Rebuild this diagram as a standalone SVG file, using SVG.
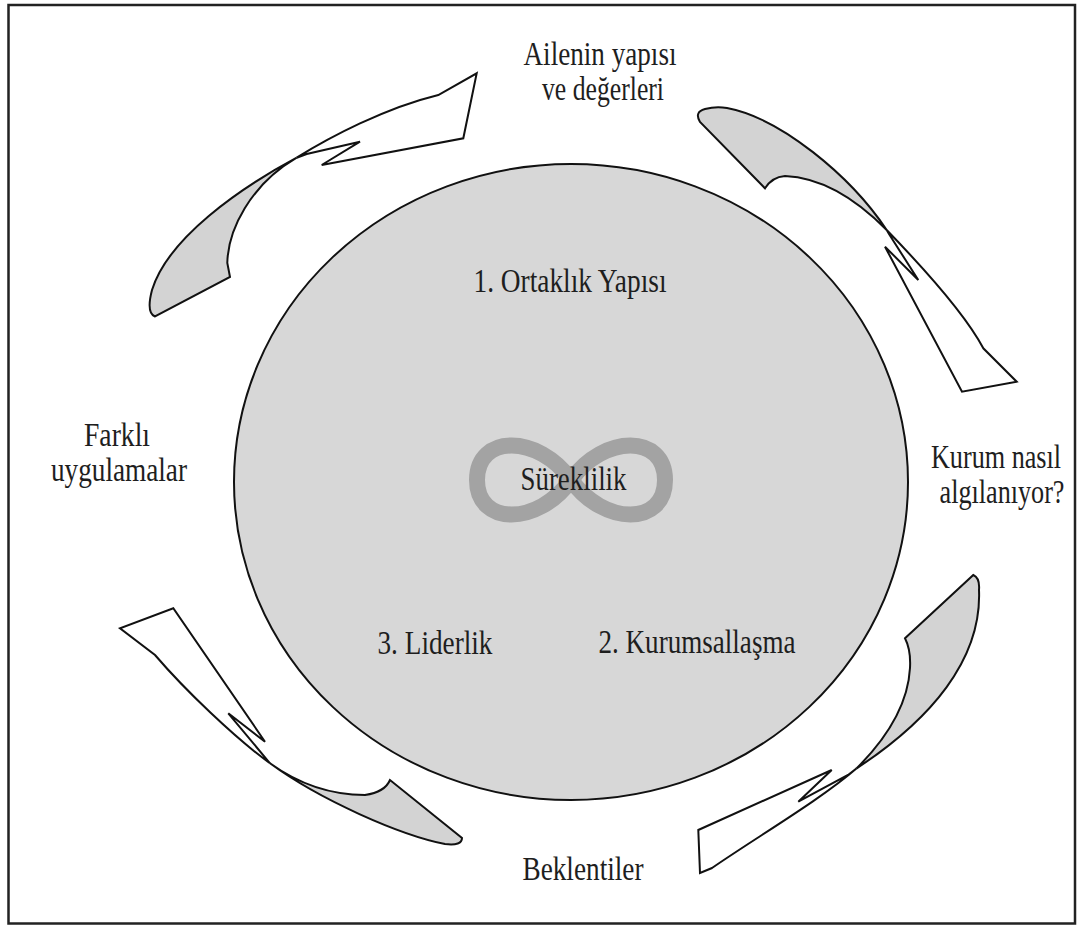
<svg xmlns="http://www.w3.org/2000/svg" width="1080" height="929" viewBox="0 0 1080 929">
  <style>
    .frame { fill: #ffffff; stroke: #222222; stroke-width: 2.5; }
    .core { fill: #d7d7d7; stroke: #111111; stroke-width: 2; }
    .ribbon-back { fill: #d3d3d3; stroke: #111111; stroke-width: 2; stroke-linejoin: miter; }
    .ribbon-front { fill: #ffffff; stroke: #111111; stroke-width: 2; stroke-linejoin: miter; }
    .loop { fill: none; stroke: #a3a3a3; stroke-width: 16; }
    .lbl { font-family: "Liberation Serif", "Times New Roman", serif; font-size: 34px; fill: #1e1e1e; text-anchor: middle; }
  </style>

  <rect class="frame" x="8.5" y="5" width="1066.5" height="918.5"/>

  <!-- central circle with the three pillars -->
  <g id="core">
    <ellipse class="core" cx="571" cy="482" rx="337" ry="318"/>
    <path class="loop" d="M 571 480 C 604 434, 665 434, 665 480 C 665 526, 604 526, 571 480 C 538 434, 477 434, 477 480 C 477 526, 538 526, 571 480 Z"/>
    <text class="lbl" x="570" y="292" textLength="193" lengthAdjust="spacingAndGlyphs">1. Ortaklık Yapısı</text>
    <text class="lbl" x="573.5" y="490" textLength="106" lengthAdjust="spacingAndGlyphs">Süreklilik</text>
    <text class="lbl" x="435" y="654" textLength="115" lengthAdjust="spacingAndGlyphs">3. Liderlik</text>
    <text class="lbl" x="697" y="653" textLength="197" lengthAdjust="spacingAndGlyphs">2. Kurumsallaşma</text>
  </g>

  <!-- twisted ribbons circling the core -->
  <g id="connectors">
    <g id="ribbon-top-left">
      <path class="ribbon-back" d="M 296.7 157.7 C 240 188, 168 238, 152 290 Q 146 313, 155 316.5 L 230 277 L 227.3 263 C 228 230, 250 185, 296.7 157.7 Z"/>
      <path class="ribbon-front" d="M 296.7 157.7 C 330 137, 385 108, 438.3 95 L 476.7 73.3 L 463.3 138.3 L 321.7 165 L 360 141.7 L 306.7 154 Z"/>
    </g>
    <g id="ribbon-top-right">
      <path class="ribbon-back" d="M 700 122 Q 694 112, 705 109 Q 716 106, 727 108 C 780 118, 850 175, 886.7 230 C 865 208, 830 178, 785 176 Q 772 177, 765 188.3 Z"/>
      <path class="ribbon-front" d="M 886.7 230 C 908 252, 962 308, 983.3 348.3 L 1016.7 381.7 L 962 391.7 L 885 246.7 L 918.3 280 L 889 234 Z"/>
    </g>
    <g id="ribbon-bottom-right">
      <path class="ribbon-back" d="M 973.3 575 Q 980 578, 979 590 C 982 660, 930 720, 856.7 768.3 C 885 740, 908 705, 910 668 Q 911 650, 905 638.3 Z"/>
      <path class="ribbon-front" d="M 856.7 768.3 C 820 800, 760 835, 712 868 L 700 873 L 698.3 830 L 831.7 770 L 798.3 801.7 L 848 775 Z"/>
    </g>
    <g id="ribbon-bottom-left">
      <path class="ribbon-back" d="M 270 763.3 C 320 800, 400 835, 445 844 Q 462 846, 462 838 L 390 780 Q 385 792, 365 795 C 330 795, 300 785, 270 763.3 Z"/>
      <path class="ribbon-front" d="M 270 763.3 C 235 738, 185 690, 155 655 L 120 628.3 L 173.3 608.3 L 265 741.7 L 228.3 713.3 Z"/>
    </g>
  </g>

  <!-- outer influences -->
  <g id="label-family">
    <text class="lbl" x="600" y="65" textLength="153" lengthAdjust="spacingAndGlyphs">Ailenin yapısı</text>
    <text class="lbl" x="603" y="100" textLength="122" lengthAdjust="spacingAndGlyphs">ve değerleri</text>
  </g>
  <g id="label-perception">
    <text class="lbl" transform="translate(996 468) scale(0.77 1)" x="0" y="0">Kurum nasıl</text>
    <text class="lbl" transform="translate(1002 503) scale(0.77 1)" x="0" y="0">algılanıyor?</text>
  </g>
  <g id="label-expectations">
    <text class="lbl" x="583" y="880" textLength="121" lengthAdjust="spacingAndGlyphs">Beklentiler</text>
  </g>
  <g id="label-practices">
    <text class="lbl" x="117" y="446" textLength="66" lengthAdjust="spacingAndGlyphs">Farklı</text>
    <text class="lbl" x="119" y="481" textLength="136" lengthAdjust="spacingAndGlyphs">uygulamalar</text>
  </g>
</svg>
